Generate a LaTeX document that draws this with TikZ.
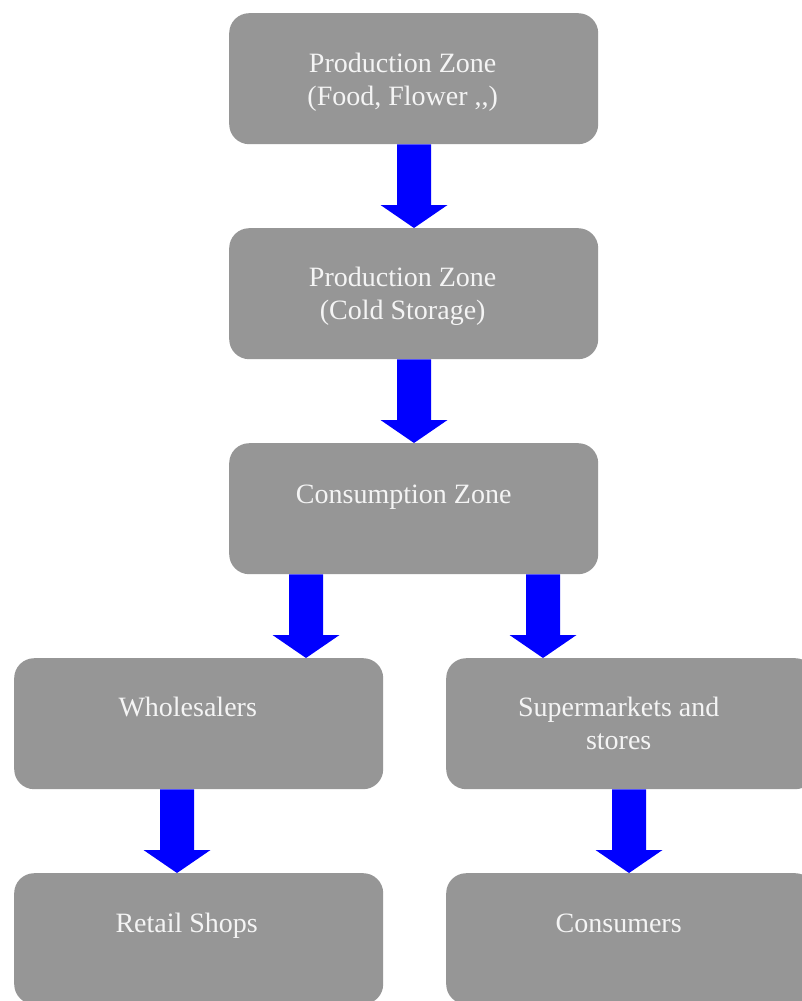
\documentclass[tikz,border=0pt]{standalone}
\usepackage{fontspec}
\setmainfont{Liberation Serif}
\usetikzlibrary{calc}
\definecolor{boxgray}{HTML}{969696}
\definecolor{txtwhite}{HTML}{F4F4F4}
\definecolor{arrblue}{HTML}{0000FF}
\tikzset{
  zonebox/.style={draw=none, fill=boxgray, rounded corners=20pt, inner sep=0pt,
    minimum width=369pt, minimum height=131pt, anchor=north west},
  zonelabel/.style={text=txtwhite, align=center, inner sep=0pt, anchor=base,
    font=\fontsize{28}{33}\selectfont},
  flowarrow/.style={fill=arrblue}
}
\newcommand\blockarrow[3]{%
  \coordinate (s#1#2) at (#3,0 |- #1.south);
  \coordinate (t#1#2) at (#3,0 |- #2.north);
  \fill[flowarrow] ($(s#1#2)+(-17,0)$) -- ($(s#1#2)+(17,0)$) -- ($(t#1#2)+(17,-23)$)
    -- ($(t#1#2)+(33.5,-23)$) -- (t#1#2) -- ($(t#1#2)+(-33.5,-23)$)
    -- ($(t#1#2)+(-17,-23)$) -- cycle;}
\begin{document}
\begin{tikzpicture}[x=1pt,y=-1pt]
\useasboundingbox (0,0) rectangle (802,1001);
\fill[white] (0,0) rectangle (802,1001);
\clip (0,0) rectangle (802,1001);
\node[zonebox] (b1) at (229,13) {};
\node[zonebox] (b2) at (229,228) {};
\node[zonebox] (b3) at (229,443) {};
\node[zonebox] (b4) at (14,658) {};
\node[zonebox] (b5) at (446,658) {};
\node[zonebox] (b6) at (14,873) {};
\node[zonebox] (b7) at (446,873) {};
\node[zonelabel] (t1) at ($(b1.north)+(-11,92)$) {Production Zone\\(Food, Flower ,{},)};
\node[zonelabel] (t2) at ($(b2.north)+(-11,91)$) {Production Zone\\(Cold Storage)};
\node[zonelabel] (t3) at ($(b3.north)+(-10,60)$) {Consumption Zone};
\node[zonelabel] (t4) at ($(b4.north)+(-11,58)$) {Wholesalers};
\node[zonelabel] (t5) at ($(b5.north)+(-12,91)$) {Supermarkets and\\stores};
\node[zonelabel] (t6) at ($(b6.north)+(-12,59)$) {Retail Shops};
\node[zonelabel] (t7) at ($(b7.north)+(-12,59)$) {Consumers};
\blockarrow{b1}{b2}{414}
\blockarrow{b2}{b3}{414}
\blockarrow{b3}{b4}{306}
\blockarrow{b3}{b5}{543}
\blockarrow{b4}{b6}{177}
\blockarrow{b5}{b7}{629}
\end{tikzpicture}
\end{document}
